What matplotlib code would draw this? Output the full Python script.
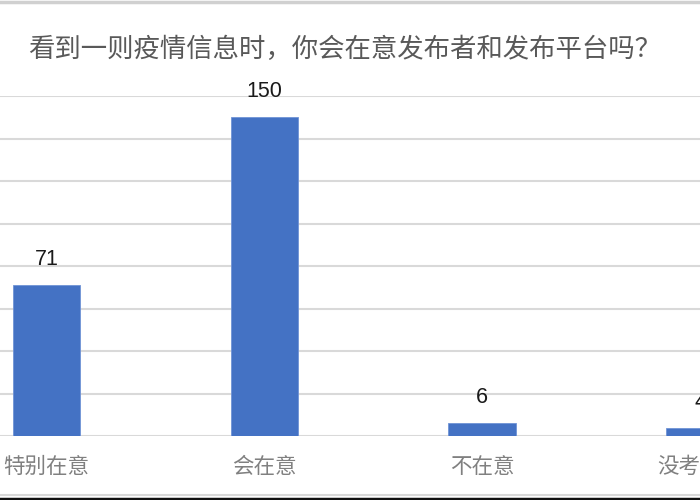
import matplotlib
matplotlib.use("Agg")
import matplotlib.pyplot as plt
from matplotlib.lines import Line2D

plt.rcParams['font.family'] = ['Noto Sans CJK SC', 'DejaVu Sans']

#%% data
title = "看到一则疫情信息时，你会在意发布者和发布平台吗？"
categories = ["特别在意", "会在意", "不在意", "没考虑过"]
counts = [71, 150, 6, 4]
y_ticks = [0, 20, 40, 60, 80, 100, 120, 140, 160]

#%% figure
fig = plt.figure(figsize=(7, 5), dpi=100)
ax = fig.add_axes([0.0, 0.128, 1.0, 0.68])

x = range(len(categories))
ax.bar(x, counts, width=0.31, color='#4472C4', edgecolor='#6f93d6', linewidth=0.6, zorder=3)

# value labels above bars
for xi, v in zip(x, counts):
    ax.text(xi, v + 7, str(v), ha='center', va='bottom', fontsize=15.5,
            family=['Liberation Sans', 'DejaVu Sans'], color='#1a1a1a')

ax.set_xlim(-0.213, 2.998)
ax.set_ylim(0, 160)
ax.set_yticks(y_ticks)
ax.yaxis.grid(True, color='#d9d9d9', linewidth=1.5, zorder=0)
ax.tick_params(axis='y', left=False, labelleft=False)
ax.tick_params(axis='x', bottom=False, pad=11)
ax.set_xticks(list(x))
ax.set_xticklabels(categories, fontsize=15.5, color='#808080')
for s in ax.spines.values():
    s.set_visible(False)
ax.set_axisbelow(True)

fig.text(0.492, 0.902, title, ha='center', va='center', fontsize=19, color='#595959')

# frame edges of the cropped screenshot
fig.add_artist(Line2D([0, 1], [0.997, 0.997], color='#d0d0d0', linewidth=2.5))
fig.add_artist(Line2D([0, 1], [0.010, 0.010], color='#d8d8d8', linewidth=1.5))
fig.add_artist(Line2D([0, 1], [0.003, 0.003], color='#111111', linewidth=2.5))

fig.savefig("out.png", dpi=100)
